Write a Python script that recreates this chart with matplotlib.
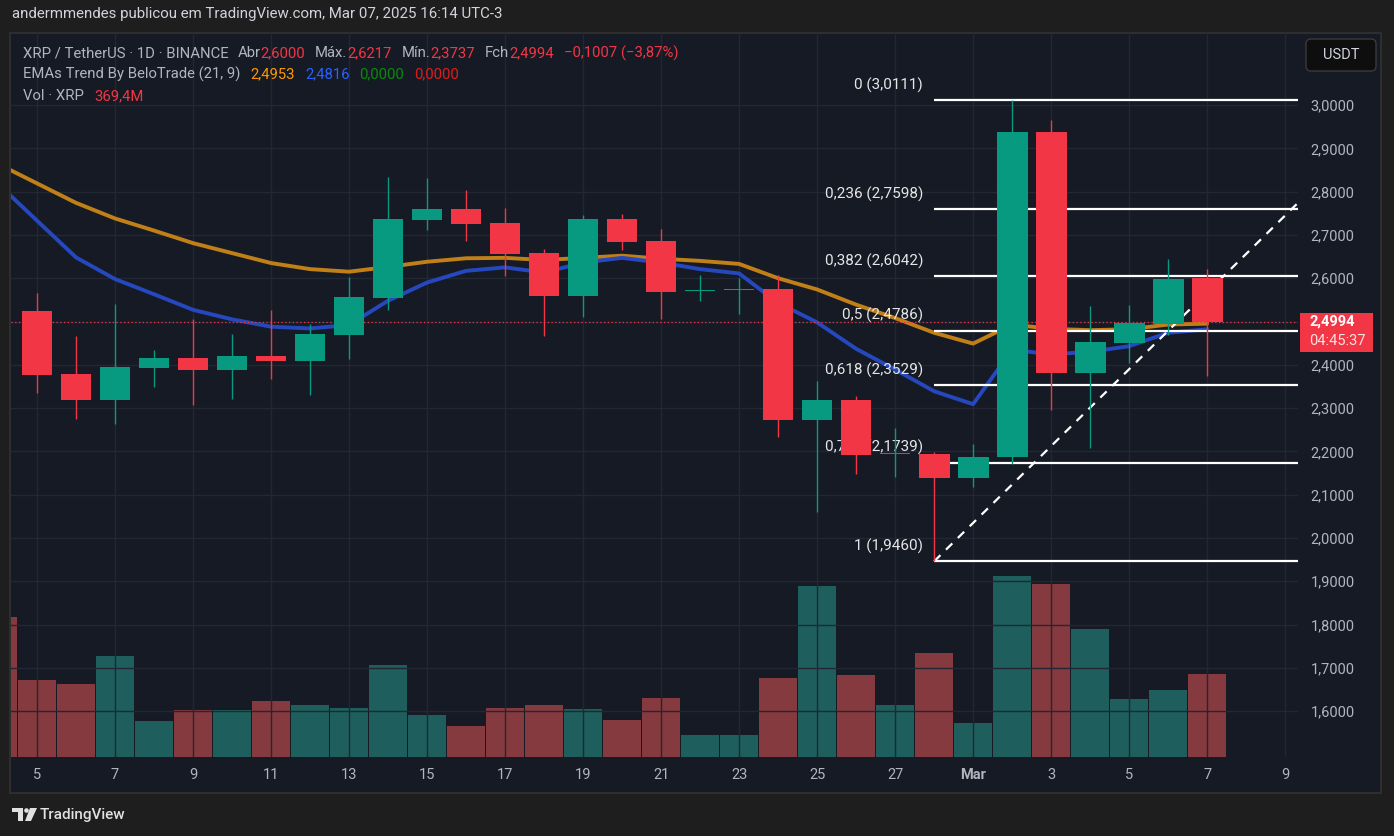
import matplotlib
matplotlib.use("Agg")
import matplotlib.pyplot as plt
import matplotlib.transforms as mtransforms
from matplotlib.patches import Rectangle, FancyBboxPatch, Polygon, Circle

plt.rcParams['font.family'] = ['Roboto', 'DejaVu Sans']

# ---- data ----
# daily candles, Feb 5 .. Mar 7 2025 (index 0 = Feb 5)
opens = [2.524, 2.379, 2.319, 2.393, 2.416, 2.388, 2.420, 2.409, 2.469, 2.554,
         2.734, 2.760, 2.727, 2.658, 2.559, 2.737, 2.686, 2.571, 2.573, 2.575,
         2.273, 2.319, 2.193, 2.194, 2.139, 2.187, 2.938, 2.381, 2.450, 2.494, 2.6000]
highs = [2.566, 2.467, 2.540, 2.434, 2.506, 2.471, 2.527, 2.494, 2.603, 2.834,
         2.831, 2.804, 2.762, 2.667, 2.746, 2.748, 2.714, 2.607, 2.600, 2.607,
         2.363, 2.328, 2.254, 2.199, 2.217, 3.011, 2.965, 2.536, 2.538, 2.644, 2.6217]
lows = [2.335, 2.275, 2.263, 2.349, 2.307, 2.321, 2.367, 2.330, 2.413, 2.527,
        2.711, 2.686, 2.605, 2.467, 2.510, 2.665, 2.506, 2.547, 2.517, 2.233,
        2.060, 2.148, 2.141, 1.946, 2.118, 2.171, 2.296, 2.208, 2.404, 2.469, 2.3737]
closes = [2.376, 2.319, 2.395, 2.416, 2.388, 2.420, 2.409, 2.471, 2.557, 2.737,
          2.760, 2.725, 2.656, 2.559, 2.737, 2.684, 2.568, 2.573, 2.575, 2.273,
          2.319, 2.192, 2.195, 2.139, 2.187, 2.938, 2.381, 2.453, 2.497, 2.598, 2.4994]

# EMA lines and volume start one day earlier (Feb 4, index -1)
ema21 = [2.864, 2.819, 2.774, 2.738, 2.710, 2.681, 2.658, 2.635, 2.621, 2.615,
         2.626, 2.638, 2.646, 2.647, 2.642, 2.647, 2.652, 2.645, 2.640, 2.633,
         2.600, 2.574, 2.539, 2.508, 2.474, 2.449, 2.493, 2.483, 2.480, 2.482,
         2.493, 2.495]
ema9 = [2.818, 2.733, 2.648, 2.598, 2.563, 2.527, 2.505, 2.488, 2.484, 2.492,
        2.548, 2.590, 2.617, 2.625, 2.613, 2.636, 2.647, 2.636, 2.621, 2.611,
        2.543, 2.498, 2.437, 2.389, 2.339, 2.309, 2.435, 2.424, 2.430, 2.443,
        2.474, 2.482]
volume_m = [623, 343, 325, 449, 160, 209, 209, 249, 231, 218, 409, 187, 138, 218,
            231, 214, 165, 263, 98, 98, 352, 761, 365, 231, 463, 151, 805, 770,
            570, 258, 298, 369.4]
feb4_up = False

xtick_labels = ['5', '7', '9', '11', '13', '15', '17', '19', '21', '23', '25',
                '27', 'Mar', '3', '5', '7', '9']
price_ticks = [1.6, 1.7, 1.8, 1.9, 2.0, 2.1, 2.2, 2.3, 2.4, 2.5, 2.6, 2.7,
               2.8, 2.9, 3.0]

fib_levels = ['0', '0,236', '0,382', '0,5', '0,618', '0,786', '1']
fib_prices = [3.0111, 2.7598, 2.6042, 2.4786, 2.3529, 2.1739, 1.9460]
fib_start, fib_end = 23, 35   # Feb 28 low -> anchor off the right edge
last_price = 2.4994

# ---- colors ----
BG = '#1e1e1e'
PANEL = '#161a25'
GRID = '#232733'
TXT = '#b2b5be'
UP = '#089981'
DOWN = '#f23645'
VOL_UP = '#1e5e5c'
VOL_DOWN = '#843a3f'

W, H = 1394, 836
fig = plt.figure(figsize=(W / 100, H / 100), dpi=100)
fig.patch.set_facecolor(BG)


def rect(x0, y0, x1, y1):
    return [x0 / W, 1 - y1 / H, (x1 - x0) / W, (y1 - y0) / H]


# chart panel background
fig.add_artist(Rectangle((10 / W, 1 - 793 / H), 1371 / W, 760 / H,
                         transform=fig.transFigure, fc=PANEL, ec='#2e2e2e',
                         lw=1.5, zorder=-10))

vax = fig.add_axes(rect(11, 33, 1298, 757))
ax = fig.add_axes(rect(11, 33, 1298, 757))
vax.set_zorder(0)
ax.set_zorder(1)
for a in (ax, vax):
    a.patch.set_visible(False)

n = len(opens)
xs = list(range(n))
xv = list(range(-1, n))

# volume (overlay)
vol_colors = [VOL_UP if feb4_up else VOL_DOWN] + \
    [VOL_UP if c >= o else VOL_DOWN for o, c in zip(opens, closes)]
vax.bar(xv, volume_m, width=0.97, color=vol_colors, linewidth=0)
vax.set_ylim(0, 3222)
vax.set_xlim(-0.667, 32.33)
vax.axis('off')

# EMAs
ax.plot(xv, ema21, color='#c17f17', lw=2.8, zorder=2, solid_capstyle='round')
ax.plot(xv, ema9, color='#2648be', lw=2.8, zorder=2, solid_capstyle='round')

# Fibonacci retracement
ax.hlines(fib_prices, fib_start, fib_end, color='white', lw=1.6, zorder=3)
for lv, pr in zip(fib_levels, fib_prices):
    ax.annotate(f"{lv} ({pr:.4f})".replace('.', ','), xy=(fib_start, pr),
                xytext=(-11, 15), textcoords='offset pixels', ha='right',
                va='center', color='#e6e6e6', fontsize=11, zorder=3)
ax.plot([fib_start, fib_end], [fib_prices[-1], fib_prices[0]], color='white',
        lw=1.6, ls=(0, (4, 3.5)), zorder=3)

# current price dotted line
ax.axhline(last_price, color=DOWN, lw=0.9, ls=(0, (1, 2)), zorder=3)

# candles
ccol = [UP if c >= o else DOWN for o, c in zip(opens, closes)]
ax.vlines(xs, lows, highs, colors=ccol, lw=1, zorder=4)
bottoms = [min(o, c) for o, c in zip(opens, closes)]
heights = [max(abs(c - o), 0.0025) for o, c in zip(opens, closes)]
ax.bar(xs, heights, bottom=bottoms, width=0.79, color=ccol, linewidth=0,
       zorder=5)

ax.set_xlim(-0.667, 32.33)
ax.set_ylim(1.4942, 3.1663)
ax.set_xticks(list(range(0, 33, 2)))
ax.set_xticklabels(xtick_labels)
for t in ax.get_xticklabels():
    if t.get_text() == 'Mar':
        t.set_fontweight('bold')
ax.set_yticks(price_ticks)
ax.set_yticklabels([f"{p:.4f}".replace('.', ',') for p in price_ticks])
ax.yaxis.tick_right()
ax.tick_params(axis='both', length=0, labelcolor=TXT, labelsize=10.5)
ax.tick_params(axis='y', pad=9)
ax.tick_params(axis='x', pad=8)
ax.grid(True, color=GRID, lw=1)
ax.set_axisbelow(True)
for s in ax.spines.values():
    s.set_visible(False)

# price label on the axis
bt = mtransforms.blended_transform_factory(fig.transFigure, ax.transData)
fig.add_artist(Rectangle((1300 / W, last_price - 0.0698), 73 / W, 0.09,
                         transform=bt, fc=DOWN, ec='none', zorder=5))
fig.text(1309 / W, last_price, "2,4994", transform=bt, color='white',
         fontsize=10.5, fontweight='bold', va='center', ha='left', zorder=6)
fig.text(1309 / W, last_price - 0.044, "04:45:37", transform=bt,
         color='#fbe0e2', fontsize=10.5, va='center', ha='left', zorder=6)

# USDT button
fig.add_artist(FancyBboxPatch((1306, H - 71), 70, 32,
                              boxstyle="round,pad=0,rounding_size=5",
                              transform=mtransforms.IdentityTransform(),
                              fc='#0e0e0e', ec='#3a3a3a', lw=1, zorder=5))
fig.text(1341 / W, 1 - 55 / H, "USDT", color='#d1d4dc', fontsize=10.5,
         ha='center', va='center', zorder=6)

# header
fig.text(12 / W, 1 - 14 / H,
         "andermmendes publicou em TradingView.com, Mar 07, 2025 16:14 UTC-3",
         color='#d1d4dc', fontsize=10.8, va='center', ha='left')

renderer = fig.canvas.get_renderer()


def text_row(x, y, parts, size=10.7):
    for s, c, gap in parts:
        x += gap
        t = fig.text(x / W, 1 - y / H, s, color=c, fontsize=size,
                     va='center', ha='left', zorder=6)
        x = t.get_window_extent(renderer).x1


LEG = '#b2b5be'
text_row(23, 53, [("XRP / TetherUS · 1D · BINANCE", LEG, 0),
                  ("Abr", LEG, 9), ("2,6000", DOWN, 0),
                  ("Máx.", LEG, 10), ("2,6217", DOWN, 0),
                  ("Mín.", LEG, 10), ("2,3737", DOWN, 0),
                  ("Fch", LEG, 10), ("2,4994", DOWN, 0),
                  ("−0,1007 (−3,87%)", DOWN, 10)])
text_row(23, 74, [("EMAs Trend By BeloTrade (21, 9)", LEG, 0),
                  ("2,4953", '#ff9800', 10), ("2,4816", '#2962ff', 10),
                  ("0,0000", '#0b8a0b', 10), ("0,0000", '#e01b1b', 10)])
text_row(23, 96, [("Vol · XRP", LEG, 0), ("369,4M", DOWN, 10)])

# TradingView logo + name
ident = mtransforms.IdentityTransform()
fig.add_artist(Polygon([(12, H - 808), (23, H - 808), (23, H - 821),
                        (18, H - 821), (18, H - 812), (12, H - 812)],
                       closed=True, transform=ident, fc='#e0e0e0', ec='none'))
fig.add_artist(Circle((26.5, H - 810.5), 2.3, transform=ident, fc='#e0e0e0',
                      ec='none'))
fig.add_artist(Polygon([(30, H - 808), (37, H - 808), (31, H - 821),
                        (25, H - 821)],
                       closed=True, transform=ident, fc='#e0e0e0', ec='none'))
fig.text(40 / W, 1 - 815 / H, "TradingView", color='#e0e0e0', fontsize=11,
         fontweight='medium', va='center', ha='left')

fig.savefig("out.png", dpi=100, facecolor=BG)
